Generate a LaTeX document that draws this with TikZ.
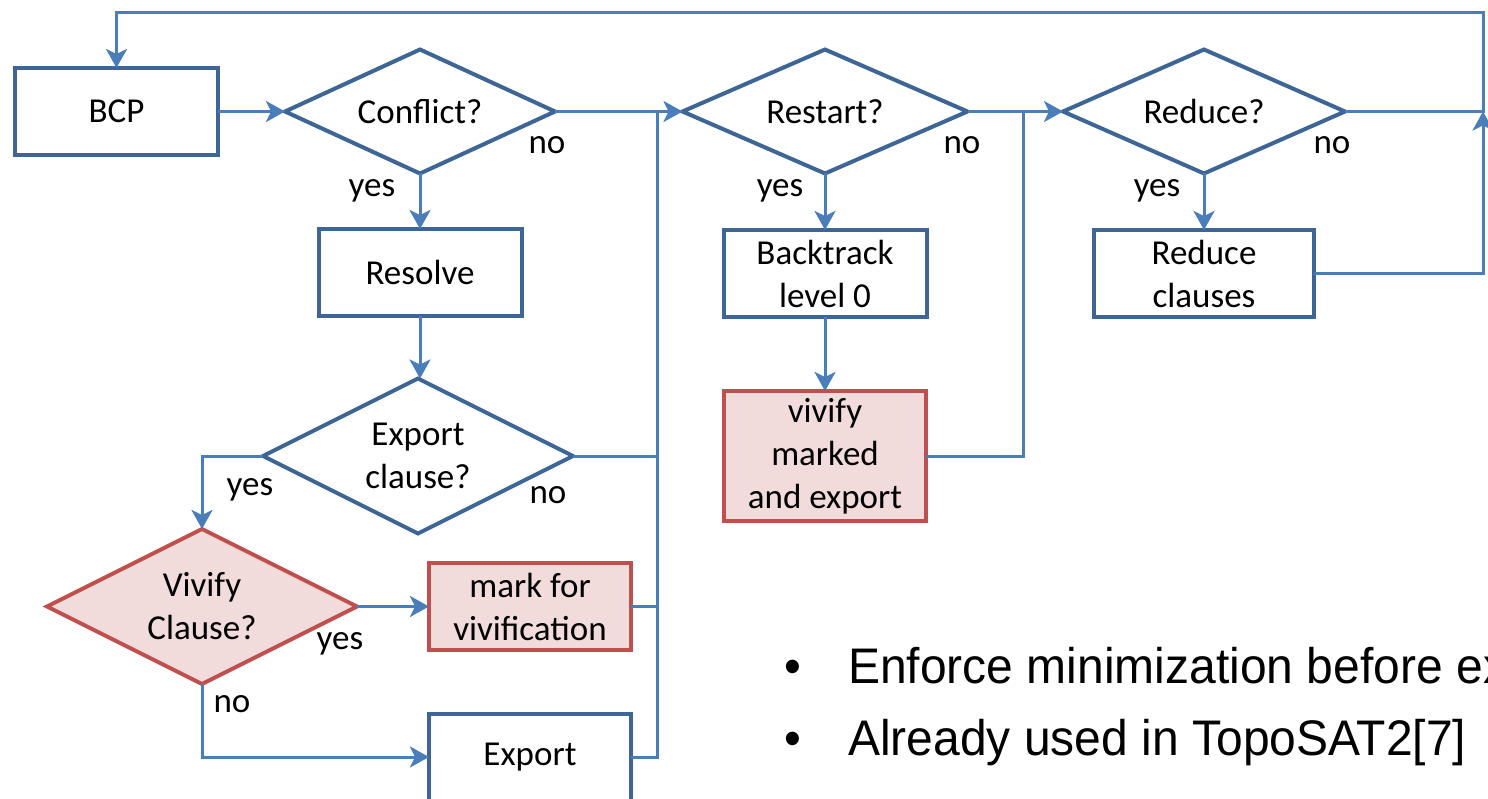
\documentclass[tikz,border=0pt]{standalone}
\usepackage{fontspec}
\setmainfont{Carlito}
\newfontfamily\bulletfont[FakeStretch=0.96]{Liberation Sans}
\usetikzlibrary{shapes.geometric,arrows.meta}
\definecolor{boxblue}{HTML}{3D6596}
\definecolor{linkblue}{HTML}{4A7EBB}
\definecolor{markred}{HTML}{C0504D}
\definecolor{markfill}{HTML}{F2DCDB}

\begin{document}
\begin{tikzpicture}[x=1pt,y=-1pt,
  every node/.style={font=\fontsize{35}{43}\selectfont},
  procbox/.style={draw=boxblue,line width=4pt,fill=white,inner sep=0pt,outer sep=0pt,
    minimum width=203pt,minimum height=87pt,align=center},
  decision/.style={diamond,aspect=2.2,draw=boxblue,line width=4pt,fill=white,inner sep=0pt,
    outer sep=0pt,align=center},
  hot/.style={draw=markred,fill=markfill},
  link/.style={draw=linkblue,line width=3pt},
  arr/.style={-{Stealth[length=19pt,width=21pt,inset=5pt]}},
  lbl/.style={inner sep=0pt},
  bullettext/.style={font=\bulletfont\fontsize{50}{60}\selectfont,inner sep=0pt,anchor=base west}
]
\useasboundingbox (0,0) rectangle (1488,799);
\clip (0,0) rectangle (1488,799);

% process boxes
\node[procbox] (bcp) at (116.5,111.5) {BCP};
\node[procbox] (resolve) at (420,272.5) {Resolve};
\node[procbox] (backtrack) at (825,273.5) {Backtrack\\level 0};
\node[procbox,minimum width=220pt] (redcl) at (1204,273.5) {Reduce\\clauses};
\node[procbox,hot,minimum width=202pt,minimum height=130pt] (vivmarked) at (825,456) {vivify\\marked\\and export};
\node[procbox,hot,minimum width=202pt] (mark) at (530,606.5) {mark for\\vivification};
\node[procbox,minimum width=202pt] (exportbox) at (530,757) {Export};

% decisions
\node[decision,minimum width=270pt,minimum height=124pt] (conf) at (420,111.5) {Conflict?};
\node[decision,minimum width=285pt,minimum height=124pt] (rest) at (825,111.5) {Restart?};
\node[decision,minimum width=282pt,minimum height=124pt] (red) at (1204,111.5) {Reduce?};
\node[decision,minimum width=310pt,minimum height=155pt] (expq) at (418,456) {Export\\clause?};
\node[decision,hot,minimum width=310pt,minimum height=155pt] (viv) at (202,606.5) {Vivify\\Clause?};

% junction points of the merging lines
\coordinate (jA) at (657,111.5);
\coordinate (jB) at (1023,111.5);
\coordinate (jC) at (1483,111.5);
\coordinate (jTop) at (1483,13);

% main flow
\draw[link,arr] (bcp.east) -- (conf.west);
\draw[link,arr] (conf.east) -- (rest.west);
\draw[link,arr] (rest.east) -- (red.west);
\draw[link,arr] (conf.south) -- (conf.south |- resolve.north);
\draw[link,arr] (resolve.south) -- (resolve.south |- expq.north);
\draw[link,arr] (rest.south) -- (rest.south |- backtrack.north);
\draw[link,arr] (backtrack.south) -- (backtrack.south |- vivmarked.north);
\draw[link,arr] (red.south) -- (red.south |- redcl.north);

% export branch
\draw[link,arr] (expq.west) -| (viv.north);
\draw[link,arr] (viv.east) -- (mark.west |- viv.east);
\draw[link,arr] (viv.south) |- (exportbox.west);
\draw[link] (exportbox.east) -| (jA);
\draw[link] (mark.east) -- (mark.east -| jA);
\draw[link] (expq.east) -- (expq.east -| jA);

% restart branch back into the main line
\draw[link] (vivmarked.east) -| (jB);

% reduce branch and loop back to BCP
\draw[link,arr] (redcl.east) -| (jC);
\draw[link,arr] (red.east) -| (jTop) -| (bcp.north);

% branch labels
\node[lbl] (lconfno) at (547,145) {no};
\node[lbl] (lconfyes) at (372,191) {yes};
\node[lbl] (lrestno) at (962,145) {no};
\node[lbl] (lrestyes) at (780,191) {yes};
\node[lbl] (lredno) at (1332,145) {no};
\node[lbl] (lredyes) at (1157,191) {yes};
\node[lbl] (lexpyes) at (250,490) {yes};
\node[lbl] (lexpno) at (548,495) {no};
\node[lbl] (lvivyes) at (340,644) {yes};
\node[lbl] (lvivno) at (232,704) {no};

% notes
\node[bullettext] (b1) at (784,683) {•};
\node[bullettext] (t1) at (848,683) {Enforce minimization before ex};
\node[bullettext] (b2) at (784,755) {•};
\node[bullettext] (t2) at (848,755) {Already used in TopoSAT2[7]};
\end{tikzpicture}
\end{document}
